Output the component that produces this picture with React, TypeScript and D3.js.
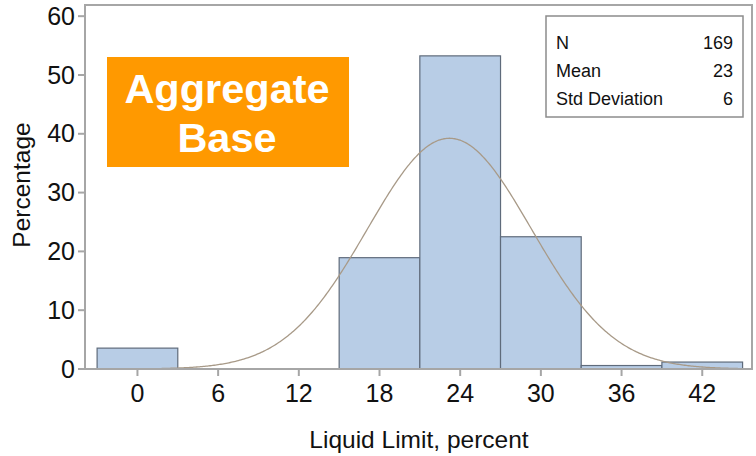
import React from "react";
import * as d3 from "d3";

const binCenters = [0, 6, 12, 18, 24, 30, 36, 42];
const percents = [3.55, 0, 0, 18.93, 53.25, 22.49, 0.59, 1.18];
const binWidth = 6;
const yTicks = [0, 10, 20, 30, 40, 50, 60];
const xTicks = [0, 6, 12, 18, 24, 30, 36, 42];
const statLabels = ["N", "Mean", "Std Deviation"];
const statValues = ["169", "23", "6"];
const fitMean = 23.2;
const fitSd = 6.1;
const curveRange = [1.8, 44.7];
const badgeLines = ["Aggregate", "Base"];

const W = 756;
const H = 456;
const L = 85, R = 752, T = 5, B = 369;
const FONT = "'Liberation Sans', Arial, Helvetica, sans-serif";

export default function App() {
  const x = d3.scaleLinear().domain([-3.9, 45.7]).range([L, R]);
  const y = d3.scaleLinear().domain([0, 61.9]).range([B, T]);

  const dens = (v: number) =>
    (100 * binWidth) / (fitSd * Math.sqrt(2 * Math.PI)) *
    Math.exp(-0.5 * ((v - fitMean) / fitSd) ** 2);
  const pts: [number, number][] = d3
    .range(curveRange[0], curveRange[1] + 0.001, 0.1)
    .map((v) => [v, dens(v)]);
  const line = d3
    .line<[number, number]>()
    .x((d) => x(d[0]))
    .y((d) => y(d[1]))
    .curve(d3.curveLinear);

  return (
    <div style={{ position: "absolute", left: 0, top: 0 }}>
      <svg width={W} height={H} style={{ display: "block", background: "#fff" }}>
        {binCenters.map((c, i) =>
          percents[i] > 0 ? (
            <rect
              key={i}
              x={x(c - binWidth / 2)}
              y={y(percents[i])}
              width={x(c + binWidth / 2) - x(c - binWidth / 2)}
              height={B - y(percents[i])}
              fill="#b8cde6"
              stroke="#5f6b7b"
              strokeWidth={1.2}
            />
          ) : null
        )}
        <path d={line(pts) || ""} fill="none" stroke="#a89a88" strokeWidth={1.3} />
        <rect x={L} y={T} width={R - L} height={B - T} fill="none" stroke="#a6a6a6" strokeWidth={2} />
        {yTicks.map((t) => (
          <g key={"y" + t}>
            <line x1={L - 7} x2={L} y1={y(t)} y2={y(t)} stroke="#a6a6a6" strokeWidth={2} />
            <text
              x={L - 10}
              y={y(t) + 2}
              textAnchor="end"
              dominantBaseline="middle"
              fontFamily={FONT}
              fontSize={25}
              fill="#111"
            >
              {t}
            </text>
          </g>
        ))}
        {xTicks.map((t) => (
          <g key={"x" + t}>
            <line x1={x(t)} x2={x(t)} y1={B} y2={B + 7} stroke="#a6a6a6" strokeWidth={2} />
            <text x={x(t)} y={402} textAnchor="middle" fontFamily={FONT} fontSize={25} fill="#111">
              {t}
            </text>
          </g>
        ))}
        <text x={419} y={448} textAnchor="middle" fontFamily={FONT} fontSize={24.5} fill="#111">
          Liquid Limit, percent
        </text>
        <text
          transform={`translate(30,185) rotate(-90)`}
          textAnchor="middle"
          fontFamily={FONT}
          fontSize={24.5}
          fill="#111"
        >
          Percentage
        </text>
        <rect x={546} y={16} width={197} height={101} fill="#fff" stroke="#8c8c8c" strokeWidth={1.5} />
        {statLabels.map((s, i) => (
          <g key={s}>
            <text x={556} y={49 + i * 28} fontFamily={FONT} fontSize={18} fill="#111">
              {s}
            </text>
            <text x={733} y={49 + i * 28} textAnchor="end" fontFamily={FONT} fontSize={18} fill="#111">
              {statValues[i]}
            </text>
          </g>
        ))}
        <rect x={107} y={57} width={242} height={110} fill="#ff9900" />
        {badgeLines.map((s, i) => (
          <text
            key={s}
            x={227}
            y={103 + i * 49}
            textAnchor="middle"
            fontFamily={FONT}
            fontWeight="bold"
            fontSize={41.5}
            fill="#fff"
          >
            {s}
          </text>
        ))}
      </svg>
    </div>
  );
}
